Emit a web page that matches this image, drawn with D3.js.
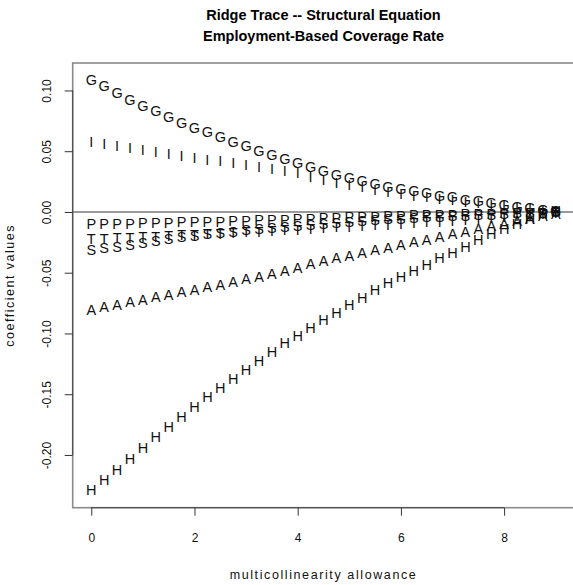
<!DOCTYPE html>
<html>
<head>
<meta charset="utf-8">
<script src="https://cdn.jsdelivr.net/npm/d3@7"></script>
<style>
  html, body { margin: 0; padding: 0; background: #fff; }
  svg { display: block; font-family: "Liberation Sans", Arial, Helvetica, sans-serif; }
</style>
</head>
<body>
<svg id="chart" width="573" height="585"></svg>
<script>
// ---- data ----
const titleLines = ["Ridge Trace -- Structural Equation", "Employment-Based Coverage Rate"];
const xLabel = "multicollinearity allowance";
const yLabel = "coefficient values";

const allowance = [0, 0.25, 0.5, 0.75, 1, 1.25, 1.5, 1.75, 2, 2.25, 2.5, 2.75, 3, 3.25, 3.5, 3.75,
  4, 4.25, 4.5, 4.75, 5, 5.25, 5.5, 5.75, 6, 6.25, 6.5, 6.75, 7, 7.25, 7.5, 7.75, 8, 8.25, 8.5, 8.75, 9];

const seriesLetters = ["G", "I", "P", "T", "S", "A", "H"];

const coefG = [0.1090, 0.1036, 0.0981, 0.0926, 0.0874, 0.0829, 0.0781, 0.0737, 0.0696, 0.0656,
  0.0619, 0.0578, 0.0541, 0.0504, 0.0469, 0.0434, 0.0401, 0.0368, 0.0336, 0.0307,
  0.0280, 0.0255, 0.0233, 0.0211, 0.0192, 0.0173, 0.0155, 0.0137, 0.0121, 0.0104,
  0.0089, 0.0074, 0.0060, 0.0046, 0.0033, 0.0021, 0.0008];
const coefI = [0.0578, 0.0562, 0.0545, 0.0529, 0.0512, 0.0496, 0.0479, 0.0463, 0.0447, 0.0432,
  0.0418, 0.0403, 0.0387, 0.0370, 0.0354, 0.0338, 0.0322, 0.0290, 0.0266, 0.0243,
  0.0223, 0.0204, 0.0186, 0.0169, 0.0152, 0.0137, 0.0123, 0.0109, 0.0097, 0.0085,
  0.0073, 0.0062, 0.0051, 0.0040, 0.0030, 0.0021, 0.0012];
const coefP = [-0.0100, -0.0099, -0.0097, -0.0095, -0.0093, -0.0090, -0.0088, -0.0085, -0.0083, -0.0080,
  -0.0077, -0.0074, -0.0070, -0.0067, -0.0064, -0.0061, -0.0058, -0.0054, -0.0051, -0.0048,
  -0.0044, -0.0041, -0.0038, -0.0035, -0.0030, -0.0027, -0.0025, -0.0022, -0.0020, -0.0017,
  -0.0015, -0.0012, -0.0010, -0.0007, -0.0006, -0.0004, -0.0002];
const coefT = [-0.0224, -0.0219, -0.0215, -0.0211, -0.0206, -0.0201, -0.0196, -0.0191, -0.0186, -0.0181,
  -0.0176, -0.0171, -0.0166, -0.0160, -0.0154, -0.0149, -0.0143, -0.0137, -0.0132, -0.0126,
  -0.0120, -0.0114, -0.0109, -0.0103, -0.0097, -0.0090, -0.0084, -0.0077, -0.0071, -0.0063,
  -0.0056, -0.0048, -0.0040, -0.0032, -0.0023, -0.0014, -0.0004];
const coefS = [-0.0310, -0.0298, -0.0284, -0.0269, -0.0253, -0.0236, -0.0220, -0.0206, -0.0194, -0.0182,
  -0.0171, -0.0160, -0.0150, -0.0140, -0.0130, -0.0121, -0.0112, -0.0103, -0.0095, -0.0087,
  -0.0080, -0.0073, -0.0066, -0.0060, -0.0054, -0.0048, -0.0043, -0.0038, -0.0033, -0.0028,
  -0.0024, -0.0020, -0.0015, -0.0011, -0.0008, -0.0005, -0.0002];
const coefA = [-0.0803, -0.0781, -0.0761, -0.0741, -0.0721, -0.0701, -0.0682, -0.0661, -0.0641, -0.0619,
  -0.0598, -0.0576, -0.0553, -0.0530, -0.0507, -0.0484, -0.0461, -0.0425, -0.0400, -0.0378,
  -0.0357, -0.0335, -0.0313, -0.0292, -0.0271, -0.0249, -0.0228, -0.0206, -0.0183, -0.0161,
  -0.0139, -0.0117, -0.0095, -0.0074, -0.0053, -0.0033, -0.0014];
const coefH = [-0.2284, -0.2201, -0.2119, -0.2033, -0.1938, -0.1848, -0.1766, -0.1683, -0.1601, -0.1523,
  -0.1445, -0.1371, -0.1297, -0.1227, -0.1153, -0.1079, -0.1017, -0.0956, -0.0886, -0.0828,
  -0.0766, -0.0705, -0.0643, -0.0586, -0.0532, -0.0483, -0.0433, -0.0380, -0.0335, -0.0285,
  -0.0232, -0.0183, -0.0141, -0.0100, -0.0055, -0.0018, 0.0007];

const xTicks = [0, 2, 4, 6, 8];
const xTickLabels = ["0", "2", "4", "6", "8"];
const yTicks = [-0.20, -0.15, -0.10, -0.05, 0.00, 0.05, 0.10];
const yTickLabels = ["-0.20", "-0.15", "-0.10", "-0.05", "0.00", "0.05", "0.10"];

// ---- layout ----
const svg = d3.select("#chart");
const plot = { left: 72.7, right: 574.3, top: 63, bottom: 507.7 };

const x = d3.scaleLinear().domain([-0.36, 9.36]).range([plot.left, plot.right]);
const y = d3.scaleLinear().domain([-0.2434, 0.1226]).range([plot.bottom, plot.top]);

// zero reference line
svg.append("line")
  .attr("x1", plot.left).attr("x2", plot.right)
  .attr("y1", y(0)).attr("y2", y(0))
  .attr("stroke", "#9a9a9a").attr("stroke-width", 2);

// box
svg.append("rect")
  .attr("x", plot.left).attr("y", plot.top)
  .attr("width", plot.right - plot.left).attr("height", plot.bottom - plot.top)
  .attr("fill", "none").attr("stroke", "#8a8a8a").attr("stroke-width", 1.6);

// axes
const xAxis = d3.axisBottom(x).tickValues(xTicks)
  .tickFormat((d, i) => xTickLabels[i]).tickSize(8).tickPadding(10);
const gx = svg.append("g").attr("transform", `translate(0,${plot.bottom})`).call(xAxis);
gx.select(".domain").attr("d", `M${x(0)},0H${x(8)}`).attr("stroke", "#444");
gx.selectAll(".tick line").attr("stroke", "#333");
gx.selectAll(".tick text").attr("font-size", 12).attr("fill", "#111")
  .attr("font-family", '"Liberation Sans", Arial, sans-serif').attr("y", 30).attr("dy", "0.35em");

const yAxis = d3.axisLeft(y).tickValues(yTicks)
  .tickFormat((d, i) => yTickLabels[i]).tickSize(8);
const gy = svg.append("g").attr("transform", `translate(${plot.left},0)`).call(yAxis);
gy.select(".domain").attr("d", `M0,${y(-0.20)}V${y(0.10)}`).attr("stroke", "#444");
gy.selectAll(".tick line").attr("stroke", "#333");
gy.selectAll(".tick text").attr("font-size", 12).attr("fill", "#111")
  .attr("font-family", '"Liberation Sans", Arial, sans-serif')
  .attr("x", null).attr("dy", null).attr("y", 0)
  .attr("text-anchor", "middle")
  .attr("transform", "translate(-21.5,0) rotate(-90)");

// series letters
const series = [coefG, coefI, coefP, coefT, coefS, coefA, coefH];
const fontSize = 14.5;
series.forEach((vals, si) => {
  svg.append("g").selectAll("text")
    .data(vals)
    .join("text")
    .attr("x", (d, i) => x(allowance[i]))
    .attr("y", d => y(d) + fontSize * 0.358)
    .attr("text-anchor", "middle")
    .attr("font-size", fontSize)
    .attr("fill", "#111")
    .text(seriesLetters[si]);
});

// title
const cx = (plot.left + plot.right) / 2;
svg.append("text").attr("x", cx).attr("y", 20).attr("text-anchor", "middle")
  .attr("font-size", 14.5).attr("font-weight", "bold").attr("fill", "#000").text(titleLines[0]);
svg.append("text").attr("x", cx).attr("y", 41).attr("text-anchor", "middle")
  .attr("font-size", 14.5).attr("font-weight", "bold").attr("fill", "#000").text(titleLines[1]);

// axis titles
svg.append("text").attr("x", cx).attr("y", 579).attr("text-anchor", "middle")
  .attr("font-size", 12.5).attr("letter-spacing", 1.6).attr("fill", "#111").text(xLabel);
svg.append("text").attr("transform", `translate(14,${(plot.top + plot.bottom) / 2}) rotate(-90)`)
  .attr("text-anchor", "middle")
  .attr("font-size", 12.5).attr("letter-spacing", 1.5).attr("fill", "#111").text(yLabel);
</script>
</body>
</html>
